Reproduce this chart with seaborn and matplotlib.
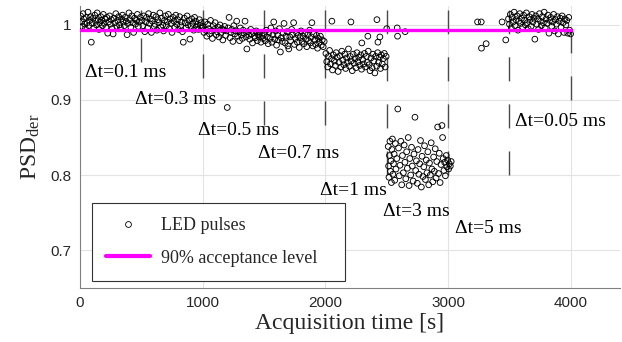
import numpy as np
import pandas as pd
import matplotlib
matplotlib.use("Agg")
import matplotlib.pyplot as plt
from matplotlib.lines import Line2D
import seaborn as sns

# LED pulse PSD values, one block per delta-t setting
t_01ms = [5, 12, 18, 25, 31, 38, 44, 52, 58, 65, 71, 79, 86, 92, 99, 106, 113, 120, 127, 134,
          140, 148, 155, 161, 169, 176, 183, 190, 197, 205, 212, 219, 226, 233, 241, 248, 255, 262, 270, 277,
          285, 292, 300, 308, 315, 322, 330, 338, 346, 353, 361, 368, 376, 384, 391, 399, 406, 414, 422, 430,
          437, 445, 452, 460, 468, 476, 484, 492]
psd_01ms = [1.012, 1.004, 0.998, 1.015, 1.008, 1.001, 0.995, 1.010, 1.003, 1.017,
            0.999, 1.006, 1.011, 0.977, 1.002, 1.009, 0.996, 1.013, 1.005, 1.000,
            1.016, 1.007, 0.994, 1.003, 1.011, 1.006, 0.999, 1.014, 1.002, 1.008,
            0.997, 1.010, 0.989, 1.004, 1.012, 1.001, 1.007, 0.995, 0.988, 1.009,
            1.003, 1.015, 0.998, 1.006, 1.011, 1.000, 0.996, 1.008, 1.013, 1.004,
            0.999, 1.010, 1.005, 0.987, 1.002, 1.016, 1.007, 0.997, 1.012, 1.003,
            0.990, 1.009, 1.001, 1.006, 1.014, 0.998, 1.004, 1.010]

t_03ms = [505, 513, 520, 528, 536, 543, 551, 559, 566, 574, 582, 589, 597, 605, 612, 620, 628, 635, 643, 651,
          658, 666, 674, 681, 689, 697, 704, 712, 720, 727, 735, 743, 750, 758, 766, 773, 781, 789, 796, 804,
          812, 819, 827, 835, 842, 850, 858, 865, 873, 881, 888, 896, 904, 911, 919, 927, 934, 942, 950, 957,
          965, 973, 980, 988, 995]
psd_03ms = [1.006, 0.999, 1.012, 0.991, 1.004, 1.010, 0.996, 1.015, 1.002, 1.008,
            0.990, 1.005, 1.013, 0.998, 1.001, 1.011, 0.993, 1.007, 1.003, 1.016,
            0.997, 1.009, 1.000, 0.992, 1.006, 1.012, 0.999, 1.004, 1.014, 0.995,
            1.008, 1.002, 0.990, 1.010, 1.005, 0.997, 1.013, 1.001, 1.007, 0.994,
            1.011, 0.999, 1.004, 0.991, 0.977, 1.009, 1.003, 0.996, 1.012, 1.000,
            1.006, 0.981, 0.998, 1.008, 1.002, 0.993, 1.010, 1.005, 0.997, 1.001,
            0.994, 1.007, 0.999, 1.003, 0.996]

t_05ms = [1003, 1010, 1018, 1026, 1033, 1041, 1049, 1056, 1064, 1072, 1079, 1087, 1095, 1102, 1110, 1118,
          1125, 1133, 1141, 1148, 1156, 1164, 1171, 1179, 1187, 1194, 1200, 1208, 1215, 1223, 1231, 1238,
          1246, 1254, 1261, 1269, 1277, 1284, 1292, 1300, 1307, 1315, 1323, 1330, 1338, 1345, 1353, 1360,
          1368, 1376, 1383, 1391, 1399, 1406, 1414, 1422, 1429, 1437, 1445, 1452, 1460, 1468, 1475, 1483, 1491]
psd_05ms = [0.998, 0.990, 1.004, 0.993, 0.985, 1.001, 0.995, 0.988, 1.006, 0.992,
            0.982, 0.999, 0.994, 1.003, 0.987, 0.991, 0.997, 0.984, 1.000, 0.989,
            0.995, 0.980, 0.993, 0.998, 0.986, 0.992, 0.890, 0.996, 1.010, 0.983,
            0.990, 0.994, 0.978, 0.999, 0.988, 0.992, 1.005, 0.985, 0.991, 0.979,
            0.996, 0.987, 0.982, 0.993, 0.989, 1.005, 0.984, 0.968, 0.991, 0.986,
            0.981, 0.994, 0.988, 0.976, 0.990, 0.985, 0.983, 0.992, 0.979, 0.987,
            0.984, 0.990, 0.977, 0.986, 0.982]

t_07ms = [1503, 1510, 1518, 1526, 1533, 1541, 1549, 1556, 1564, 1572, 1579, 1587, 1595, 1602, 1610, 1618,
          1625, 1633, 1641, 1648, 1656, 1663, 1671, 1679, 1687, 1694, 1702, 1710, 1717, 1725, 1733, 1741,
          1748, 1756, 1764, 1771, 1779, 1787, 1794, 1802, 1810, 1817, 1825, 1833, 1840, 1848, 1856, 1863,
          1871, 1879, 1886, 1890, 1898, 1905, 1913, 1921, 1928, 1936, 1944, 1951, 1959, 1967, 1974, 1982, 1990]
psd_07ms = [0.988, 0.979, 0.993, 0.984, 0.975, 0.990, 0.982, 0.996, 0.977, 0.987,
            1.004, 0.981, 0.992, 0.973, 0.986, 0.980, 0.995, 0.964, 0.983, 0.978,
            0.989, 1.002, 0.976, 0.985, 0.991, 0.972, 0.968, 0.984, 0.979, 0.994,
            0.987, 1.003, 0.974, 0.982, 0.990, 0.977, 0.986, 0.970, 0.983, 0.992,
            0.978, 0.985, 0.975, 0.989, 0.981, 0.971, 0.987, 0.979, 0.993, 0.976,
            0.984, 1.003, 0.972, 0.988, 0.980, 0.974, 0.986, 0.969, 0.982, 0.977,
            0.985, 0.973, 0.980, 0.971, 0.978]

t_1ms = [2004, 2011, 2019, 2027, 2034, 2042, 2050, 2053, 2058, 2065, 2073, 2081, 2088, 2096, 2104, 2111,
         2119, 2127, 2134, 2142, 2150, 2157, 2165, 2173, 2180, 2188, 2196, 2203, 2208, 2211, 2219, 2226,
         2234, 2242, 2249, 2257, 2265, 2272, 2280, 2288, 2295, 2297, 2303, 2311, 2318, 2326, 2334, 2341,
         2346, 2349, 2357, 2364, 2372, 2380, 2387, 2395, 2403, 2410, 2418, 2420, 2426, 2428, 2433, 2441,
         2444, 2449, 2456, 2464, 2472, 2480, 2487, 2495]
psd_1ms = [0.962, 0.951, 0.944, 0.958, 0.966, 0.948, 0.955, 1.005, 0.940, 0.960,
           0.952, 0.946, 0.963, 0.957, 0.938, 0.950, 0.959, 0.944, 0.965, 0.953,
           0.947, 0.961, 0.942, 0.956, 0.950, 0.968, 0.945, 0.958, 1.004, 0.952,
           0.939, 0.961, 0.949, 0.955, 0.943, 0.963, 0.951, 0.957, 0.946, 0.960,
           0.941, 0.976, 0.954, 0.948, 0.962, 0.944, 0.958, 0.950, 0.985, 0.965,
           0.947, 0.939, 0.956, 0.943, 0.961, 0.952, 0.936, 0.958, 0.945, 1.007,
           0.963, 0.977, 0.950, 0.957, 0.984, 0.942, 0.960, 0.948, 0.955, 0.962,
           0.944, 0.958]

t_3ms = [2500, 2585, 2588, 2650, 2512, 2515, 2518, 2522, 2526, 2530, 2534, 2538, 2542, 2546, 2550, 2555,
         2560, 2565, 2570, 2575, 2582, 2590, 2596, 2602, 2608, 2615, 2622, 2628, 2635, 2642, 2648, 2655,
         2662, 2668, 2675, 2682, 2688, 2695, 2702, 2708, 2715, 2722, 2730, 2736, 2742, 2749, 2755, 2762,
         2768, 2775, 2782, 2788, 2795, 2802, 2808, 2815, 2822, 2828, 2835, 2842, 2848, 2855, 2862, 2868,
         2875, 2882, 2888, 2895, 2902, 2908, 2915, 2922, 2928, 2935, 2942, 2950, 2955, 2960, 2966, 2972,
         2978, 2985, 2990, 2996, 3004, 3010, 3018, 3025]
psd_3ms = [0.995, 0.996, 0.985, 0.991, 0.838, 0.812, 0.797, 0.826, 0.845, 0.805, 0.819, 0.790, 0.834, 0.848,
           0.801, 0.815, 0.828, 0.793, 0.842, 0.808, 0.822, 0.888, 0.836, 0.799, 0.813, 0.845, 0.787, 0.826,
           0.803, 0.840, 0.817, 0.795, 0.831, 0.809, 0.850, 0.786, 0.822, 0.800, 0.837, 0.812, 0.792, 0.828,
           0.877, 0.806, 0.819, 0.789, 0.834, 0.801, 0.815, 0.846, 0.784, 0.825, 0.798, 0.811, 0.839, 0.794,
           0.820, 0.803, 0.831, 0.787, 0.816, 0.800, 0.843, 0.808, 0.791, 0.824, 0.805, 0.835, 0.796, 0.818,
           0.864, 0.802, 0.829, 0.790, 0.814, 0.866, 0.850, 0.822, 0.806, 0.817, 0.799, 0.826, 0.811, 0.820,
           0.808, 0.815, 0.812, 0.818]

t_5ms = [3240, 3270, 3272, 3310, 3440, 3470]
psd_5ms = [1.004, 1.004, 0.969, 0.975, 1.004, 0.980]

t_005ms = [3492, 3500, 3507, 3515, 3523, 3530, 3538, 3546, 3553, 3561, 3569, 3576, 3584, 3592, 3599, 3607,
           3615, 3622, 3630, 3638, 3645, 3653, 3661, 3668, 3676, 3684, 3691, 3699, 3707, 3714, 3722, 3730,
           3737, 3745, 3753, 3760, 3768, 3776, 3783, 3791, 3799, 3806, 3814, 3822, 3829, 3837, 3845, 3852,
           3860, 3868, 3875, 3883, 3891, 3898, 3906, 3914, 3921, 3929, 3937, 3944, 3952, 3960, 3967, 3975,
           3983, 3990, 3998]
psd_005ms = [1.008, 1.001, 1.014, 0.996, 1.010, 1.004, 1.017, 0.999, 1.007, 1.012,
             0.993, 1.005, 1.015, 1.002, 1.009, 0.997, 1.013, 1.006, 1.000, 1.016,
             1.003, 0.995, 1.011, 1.007, 0.998, 1.014, 1.004, 1.009, 0.981, 1.012,
             1.001, 1.008, 0.994, 1.015, 1.005, 0.999, 1.011, 1.003, 1.017, 0.996,
             1.008, 1.002, 1.013, 0.989, 1.006, 1.010, 0.998, 1.004, 1.014, 0.992,
             1.007, 1.001, 1.011, 0.988, 1.005, 1.009, 0.997, 1.012, 1.003, 0.990,
             1.008, 1.000, 1.006, 0.989, 1.010, 0.993, 0.988]

# 90% acceptance level
accept_t = [0, 4000]
accept_psd = [0.993, 0.993]

# delta-t change markers and their labels
step_t = [500, 1000, 1500, 2000, 2500, 3000, 3500, 4000]
step_low = [0.951, 0.929, 0.867, 0.867, 0.800, 0.800, 0.800, 0.900]
dt_labels = ["Δt=0.1 ms", "Δt=0.3 ms", "Δt=0.5 ms", "Δt=0.7 ms",
             "Δt=1 ms", "Δt=3 ms", "Δt=5 ms", "Δt=0.05 ms"]
label_pos = [(40, 0.937), (448, 0.900), (961, 0.860), (1450, 0.829),
             (1955, 0.780), (2468, 0.751), (3055, 0.729), (3544, 0.871)]

segs = [(t_01ms, psd_01ms), (t_03ms, psd_03ms), (t_05ms, psd_05ms), (t_07ms, psd_07ms),
        (t_1ms, psd_1ms), (t_3ms, psd_3ms), (t_5ms, psd_5ms), (t_005ms, psd_005ms)]
for t, p in segs:
    assert len(t) == len(p), (len(t), len(p))
df = pd.DataFrame({
    "t": np.concatenate([s[0] for s in segs]),
    "psd": np.concatenate([s[1] for s in segs]),
})

sns.set_style("white")
plt.rcParams["font.family"] = ["Liberation Sans", "DejaVu Sans"]
plt.rcParams["mathtext.fontset"] = "custom"
plt.rcParams["mathtext.rm"] = "Liberation Serif"
plt.rcParams["mathtext.it"] = "Liberation Serif:italic"
plt.rcParams["lines.scale_dashes"] = False

serif = ["Liberation Serif", "DejaVu Serif"]

fig = plt.figure(figsize=(6.22, 3.42), dpi=100)
ax = fig.add_axes([0.1286, 0.159, 0.868, 0.823])

ax.grid(True, color="#e3e3e3", lw=0.8)
ax.set_axisbelow(True)

for t, lo in zip(step_t, step_low):
    ax.plot([t, t], [lo, 1.02], color="#4a4a4a", lw=1.0, dashes=(17.3, 16.6), zorder=1.5)

sns.scatterplot(data=df, x="t", y="psd", ax=ax, marker="o", s=17,
                facecolor="none", edgecolor="black", linewidth=0.65, zorder=3, legend=False)
ax.collections[-1].set_facecolor("none")

sns.lineplot(x=accept_t, y=accept_psd, ax=ax, color="#ff00ff", lw=2.4, zorder=4)

for lab, (x, y) in zip(dt_labels, label_pos):
    ax.text(x, y, lab, family=serif, fontsize=14, ha="left", va="center", color="black", zorder=5)

ax.set_xlim(0, 4400)
ax.set_ylim(0.65, 1.025)
ax.set_xticks([0, 1000, 2000, 3000, 4000])
ax.set_yticks([0.7, 0.8, 0.9, 1.0])
ax.set_yticklabels(["0.7", "0.8", "0.9", "1"])
ax.tick_params(direction="in", length=4, width=0.8, color="#808080",
               labelsize=11, labelcolor="#262626", pad=6)
for side in ["top", "right"]:
    ax.spines[side].set_visible(False)
for side in ["left", "bottom"]:
    ax.spines[side].set_color("#808080")
    ax.spines[side].set_linewidth(0.8)

ax.set_xlabel("Acquisition time [s]", family=serif, fontsize=17, color="#262626", labelpad=2)
ax.set_ylabel(r"PSD$_{\mathrm{der}}$", family=serif, fontsize=17, color="#262626", labelpad=6)

handles = [
    Line2D([], [], marker="o", ls="none", mfc="none", mec="black", ms=4.2, mew=0.6),
    Line2D([], [], color="#ff00ff", lw=3),
]
ax.legend(handles, ["LED pulses", "90% acceptance level"], loc="lower left",
          bbox_to_anchor=(0.022, 0.023, 0.469, 0.3), mode="expand", borderaxespad=0,
          prop={"family": serif, "size": 13}, frameon=True, fancybox=False,
          edgecolor="#333333", framealpha=1, handlelength=2.4, labelspacing=0.85,
          borderpad=0.8, handletextpad=0.65)
ax.get_legend().get_frame().set_linewidth(0.8)

fig.savefig("out.png", dpi=100)
